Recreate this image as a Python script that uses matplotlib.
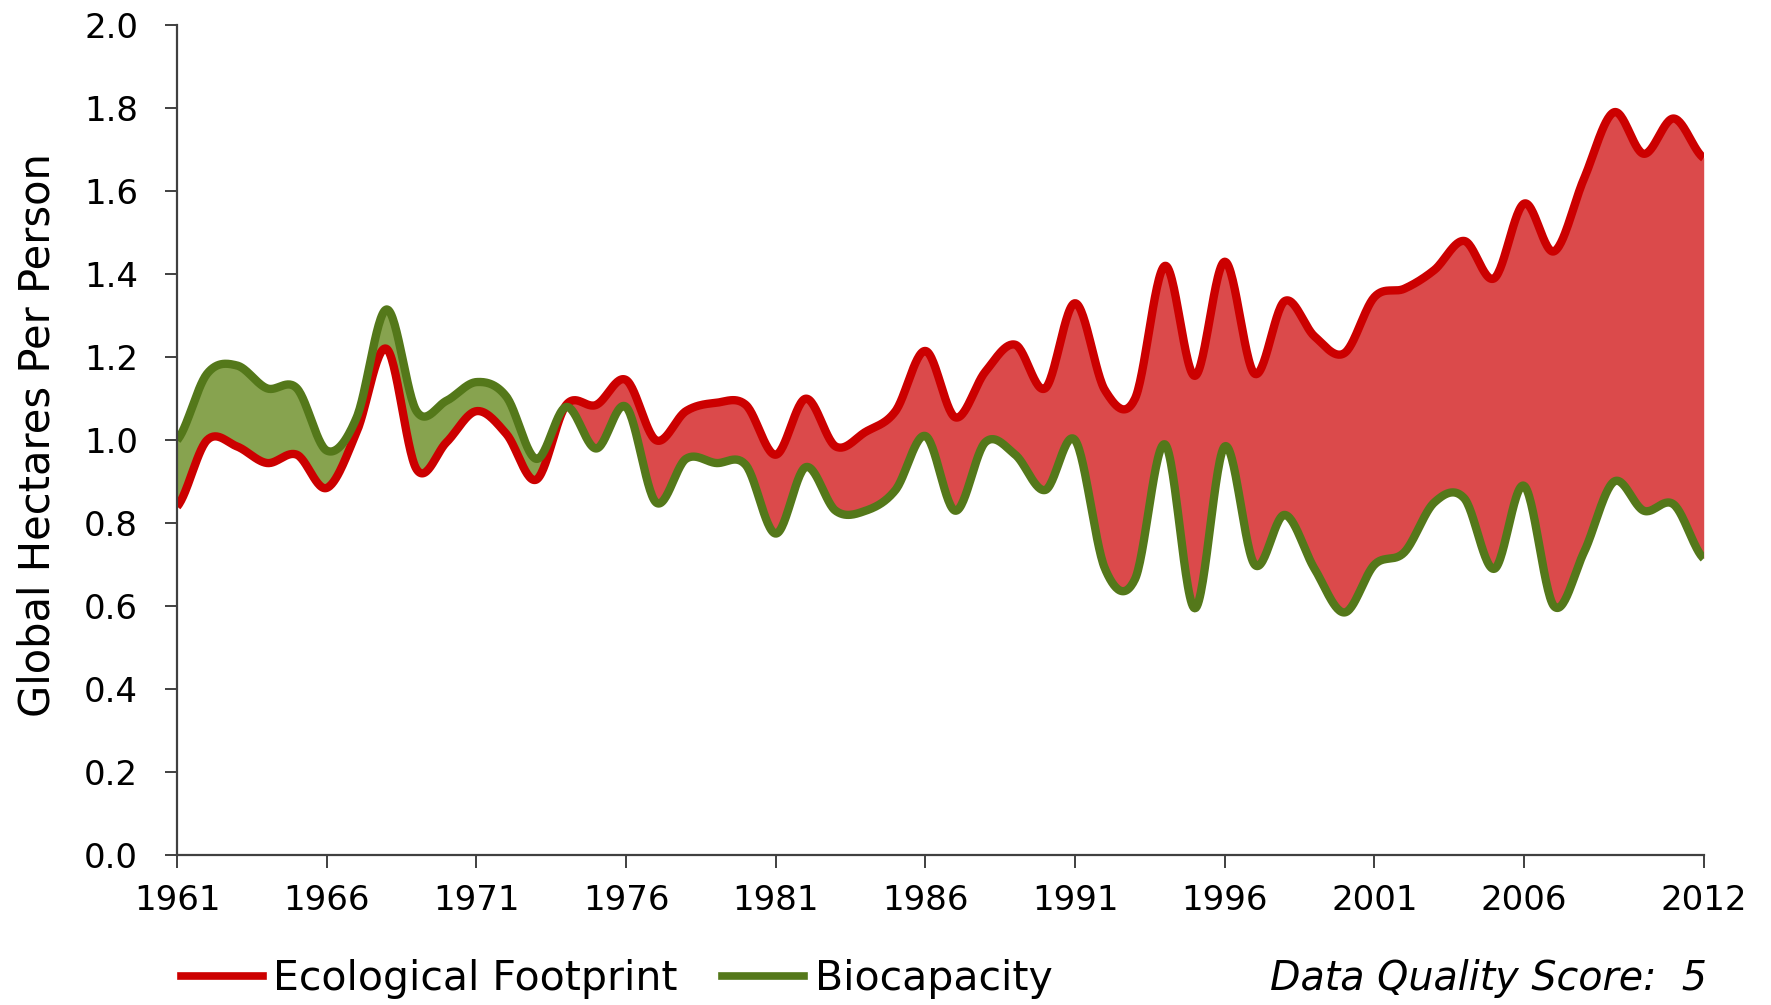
import numpy as np
import matplotlib
matplotlib.use('Agg')
import matplotlib.pyplot as plt
from matplotlib.lines import Line2D

years = list(range(1961, 2013))

footprint = [0.84, 1.00, 0.985, 0.945, 0.965, 0.885, 1.02, 1.22, 0.93, 0.995,
             1.07, 1.015, 0.905, 1.085, 1.085, 1.145, 1.00, 1.07, 1.09, 1.085,
             0.965, 1.10, 0.985, 1.02, 1.07, 1.215, 1.055, 1.165, 1.23, 1.125,
             1.33, 1.12, 1.10, 1.42, 1.155, 1.43, 1.16, 1.335, 1.25, 1.21,
             1.345, 1.365, 1.41, 1.48, 1.39, 1.57, 1.455, 1.63, 1.79, 1.69,
             1.775, 1.68]

biocapacity = [1.00, 1.16, 1.18, 1.125, 1.125, 0.975, 1.055, 1.315, 1.07, 1.095,
               1.14, 1.105, 0.955, 1.08, 0.98, 1.08, 0.85, 0.955, 0.945, 0.94,
               0.775, 0.935, 0.83, 0.83, 0.88, 1.01, 0.83, 0.995, 0.965, 0.88,
               1.00, 0.69, 0.665, 0.99, 0.595, 0.985, 0.70, 0.82, 0.69, 0.585,
               0.70, 0.73, 0.85, 0.86, 0.69, 0.89, 0.60, 0.73, 0.90, 0.83,
               0.845, 0.715]

xtick_years = [1961, 1966, 1971, 1976, 1981, 1986, 1991, 1996, 2001, 2006, 2012]
yticks = [0.0, 0.2, 0.4, 0.6, 0.8, 1.0, 1.2, 1.4, 1.6, 1.8, 2.0]

red_line = '#cc0000'
red_fill = '#db4a4b'
green_line = '#54781a'
green_fill = '#87a34f'


# catmull-rom smoothing, like the excel "smoothed line" option
def smooth(x, y, n=30):
    x = np.asarray(x, float)
    y = np.asarray(y, float)
    px = np.concatenate([[2 * x[0] - x[1]], x, [2 * x[-1] - x[-2]]])
    py = np.concatenate([[y[0]], y, [y[-1]]])
    t = np.linspace(0, 1, n, endpoint=False)
    xs, ys = [], []
    for i in range(len(x) - 1):
        for p, out in ((px, xs), (py, ys)):
            p0, p1, p2, p3 = p[i], p[i + 1], p[i + 2], p[i + 3]
            out.append(0.5 * (2 * p1 + (-p0 + p2) * t
                              + (2 * p0 - 5 * p1 + 4 * p2 - p3) * t ** 2
                              + (-p0 + 3 * p1 - 3 * p2 + p3) * t ** 3))
    xs.append([x[-1]])
    ys.append([y[-1]])
    return np.concatenate(xs), np.concatenate(ys)


xs, fp_s = smooth(years, footprint)
_, bc_s = smooth(years, biocapacity)

fig = plt.figure(figsize=(17.71, 10.05), dpi=100)
ax = fig.add_axes([0.1, 0.149, 0.862, 0.826])

ax.fill_between(xs, fp_s, bc_s, where=fp_s >= bc_s, interpolate=True,
                color=red_fill, lw=0, zorder=1)
ax.fill_between(xs, fp_s, bc_s, where=bc_s >= fp_s, interpolate=True,
                color=green_fill, lw=0, zorder=1)
ax.plot(xs, fp_s, color=red_line, lw=6, solid_capstyle='butt', zorder=3)
ax.plot(xs, bc_s, color=green_line, lw=6, solid_capstyle='butt', zorder=4)

ax.set_xlim(1961, 2012)
ax.set_ylim(0, 2.0)
ax.set_xticks(xtick_years)
ax.set_xticklabels([str(v) for v in xtick_years])
ax.set_yticks(yticks)
ax.set_yticklabels(['%.1f' % v for v in yticks])

for s in ['top', 'right']:
    ax.spines[s].set_visible(False)
for s in ['left', 'bottom']:
    ax.spines[s].set_color('#404040')
    ax.spines[s].set_linewidth(1.6)
    ax.spines[s].set_zorder(5)

ax.tick_params(axis='y', direction='out', length=9, width=1.4, color='#404040',
               labelsize=24.5, pad=19)
ax.tick_params(axis='x', direction='out', length=9, width=1.4, color='#404040',
               labelsize=24.5, pad=12)

ax.set_ylabel('Global Hectares Per Person', fontsize=30)
ax.yaxis.set_label_coords(-0.078, 0.506)

handles = [Line2D([], [], color=red_line, lw=5.5),
           Line2D([], [], color=green_line, lw=5.5)]
fig.legend(handles, ['Ecological Footprint', 'Biocapacity'],
           loc='center left', bbox_to_anchor=(0.102, 0.026), ncol=2,
           frameon=False, fontsize=29.5, handlelength=2.0, handletextpad=0.25,
           columnspacing=1.1, borderpad=0, borderaxespad=0)

fig.text(0.964, 0.026, 'Data Quality Score:  5', fontsize=28.5, style='italic',
         ha='right', va='center')

fig.savefig('out.png', dpi=100)
